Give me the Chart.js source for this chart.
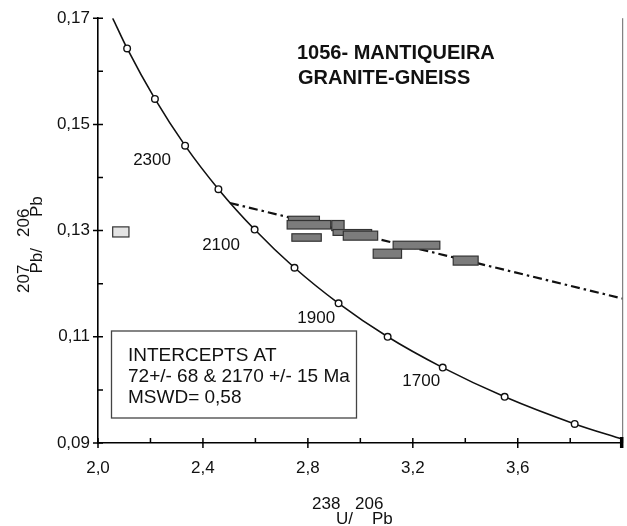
<!DOCTYPE html>
<html><head><meta charset="utf-8">
<script src="https://cdn.jsdelivr.net/npm/chart.js@4.4.0/dist/chart.umd.min.js"></script>
<style>html,body{margin:0;padding:0;background:#fff;overflow:hidden}canvas{display:block}</style>
</head><body>
<canvas id="c" width="627" height="526"></canvas>
<script>
// ---- tick labels ----
const xTickValues = [2.0, 2.4, 2.8, 3.2, 3.6];
const xTickLabels = ['2,0', '2,4', '2,8', '3,2', '3,6'];
const xMinorTicks = [2.2, 2.6, 3.0, 3.4, 3.8];
const yTickValues = [0.09, 0.11, 0.13, 0.15, 0.17];
const yTickLabels = ['0,09', '0,11', '0,13', '0,15', '0,17'];
const yMinorTicks = [0.10, 0.12, 0.14, 0.16];

// ---- concordia curve ----
const concordiaX = [2.056, 2.111, 2.217, 2.332, 2.459, 2.597, 2.749, 2.917, 3.104, 3.314, 3.550, 3.817, 4.000];
const concordiaY = [0.1700, 0.1643, 0.1548, 0.1460, 0.1378, 0.1302, 0.1230, 0.1163, 0.1100, 0.1042, 0.0987, 0.0936, 0.0907];
const concordiaMarked = [false, true, true, true, true, true, true, true, true, true, true, true, false];

// ---- age labels ----
const ageLabels = ['2300', '2100', '1900', '1700'];
const ageLabelX = [2.206, 2.469, 2.832, 3.232];
const ageLabelY = [0.1434, 0.1275, 0.1136, 0.1018];

// ---- discordia ----
const discordiaX = [2.503, 4.000];
const discordiaY = [0.1352, 0.1172];

// ---- error boxes ----
const boxX0 = [2.726, 2.721, 2.891, 2.896, 2.935, 2.739, 3.125, 3.049, 3.354, 2.056];
const boxX1 = [2.844, 2.887, 2.938, 3.043, 3.066, 2.851, 3.303, 3.157, 3.449, 2.118];
const boxY0 = [0.1316, 0.1303, 0.1300, 0.1291, 0.1282, 0.1280, 0.1265, 0.1248, 0.1235, 0.1288];
const boxY1 = [0.1327, 0.1319, 0.1319, 0.1302, 0.1299, 0.1294, 0.1280, 0.1265, 0.1252, 0.1307];
const boxLight = [false, false, false, false, false, false, false, false, false, true];

// ---- texts ----
const titleLines = ['1056- MANTIQUEIRA', 'GRANITE-GNEISS'];
const infoLines = ['INTERCEPTS AT', '72+/- 68 & 2170 +/- 15 Ma', 'MSWD= 0,58'];

const FONT = '"Liberation Sans", Arial, Helvetica, sans-serif';

const drawPlugin = {
  id: 'drawExtras',
  afterDatasetsDraw(chart) {
    const {ctx, scales: {x, y}} = chart;
    ctx.save();
    for (let i = 0; i < boxX0.length; i++) {
      const px0 = x.getPixelForValue(boxX0[i]), px1 = x.getPixelForValue(boxX1[i]);
      const py0 = y.getPixelForValue(boxY1[i]), py1 = y.getPixelForValue(boxY0[i]);
      ctx.fillStyle = boxLight[i] ? '#e4e4e4' : '#7c7c7c';
      ctx.strokeStyle = '#333';
      ctx.lineWidth = 1.2;
      ctx.fillRect(px0, py0, px1 - px0, py1 - py0);
      ctx.strokeRect(px0, py0, px1 - px0, py1 - py0);
    }
    ctx.restore();
  },
  afterDraw(chart) {
    const {ctx, chartArea: ca, scales: {x, y}} = chart;
    ctx.save();
    // right frame
    ctx.strokeStyle = '#666'; ctx.lineWidth = 1;
    ctx.beginPath(); ctx.moveTo(ca.right, ca.top); ctx.lineTo(ca.right, ca.bottom); ctx.stroke();
    // ticks
    ctx.strokeStyle = '#000'; ctx.lineWidth = 1.5;
    ctx.beginPath();
    xTickValues.forEach(v => { const p = x.getPixelForValue(v); ctx.moveTo(p, ca.bottom - 5); ctx.lineTo(p, ca.bottom + 5); });
    xMinorTicks.forEach(v => { const p = x.getPixelForValue(v); ctx.moveTo(p, ca.bottom - 5); ctx.lineTo(p, ca.bottom); });
    yTickValues.forEach(v => { const p = y.getPixelForValue(v); ctx.moveTo(ca.left - 5, p); ctx.lineTo(ca.left + 5, p); });
    yMinorTicks.forEach(v => { const p = y.getPixelForValue(v); ctx.moveTo(ca.left, p); ctx.lineTo(ca.left + 5, p); });
    ctx.stroke();
    ctx.lineWidth = 3.5;
    ctx.beginPath(); ctx.moveTo(ca.right - 1, ca.bottom - 6); ctx.lineTo(ca.right - 1, ca.bottom + 5); ctx.stroke();

    // age labels
    ctx.fillStyle = '#111';
    ctx.font = '17px ' + FONT;
    ctx.textAlign = 'center'; ctx.textBaseline = 'middle';
    ageLabels.forEach((t, i) => ctx.fillText(t, x.getPixelForValue(ageLabelX[i]), y.getPixelForValue(ageLabelY[i]) + 1));

    // title
    ctx.textAlign = 'left'; ctx.textBaseline = 'alphabetic';
    ctx.font = 'bold 20px ' + FONT;
    ctx.fillText(titleLines[0], 297, 59);
    ctx.fillText(titleLines[1], 298, 83.5);

    // info box
    ctx.fillStyle = '#fff';
    ctx.fillRect(111.5, 331, 245, 87);
    ctx.strokeStyle = '#444'; ctx.lineWidth = 1.3;
    ctx.strokeRect(111.5, 331, 245, 87);
    ctx.fillStyle = '#111';
    ctx.font = '19px ' + FONT;
    infoLines.forEach((t, i) => ctx.fillText(t, 128, 360.5 + i * 21));

    // x axis title
    ctx.font = '17px ' + FONT;
    ctx.fillText('238', 312, 509);
    ctx.fillText('206', 355, 509);
    ctx.fillText('U/', 336, 524);
    ctx.fillText('Pb', 372, 524);

    // y axis title (rotated)
    ctx.translate(0, 0);
    ctx.rotate(-Math.PI / 2);
    ctx.fillText('207', -293, 28.5);
    ctx.fillText('206', -237, 28.5);
    ctx.fillText('Pb/', -273.5, 42);
    ctx.fillText('Pb', -217, 42);
    ctx.restore();
  }
};

const ctx = document.getElementById('c').getContext('2d');
new Chart(ctx, {
  type: 'scatter',
  data: {
    datasets: [
      {
        data: concordiaX.map((v, i) => ({x: v, y: concordiaY[i]})),
        showLine: true,
        borderColor: '#111',
        borderWidth: 1.6,
        cubicInterpolationMode: 'monotone',
        pointRadius: concordiaMarked.map(m => m ? 3.3 : 0),
        pointBackgroundColor: '#fff',
        pointBorderColor: '#111',
        pointBorderWidth: 1.4,
        order: 1
      },
      {
        data: discordiaX.map((v, i) => ({x: v, y: discordiaY[i]})),
        showLine: true,
        borderColor: '#111',
        borderWidth: 2.2,
        borderDash: [9, 4, 2.5, 4],
        pointRadius: 0,
        order: 2
      }
    ]
  },
  options: {
    responsive: false,
    animation: false,
    events: [],
    layout: {padding: {left: 0, right: 4.3, top: 16, bottom: 0}},
    plugins: {legend: {display: false}, tooltip: {enabled: false}, title: {display: false}},
    scales: {
      x: {
        type: 'linear', min: 2.0, max: 4.0,
        afterBuildTicks: s => { s.ticks = xTickValues.map(v => ({value: v})); },
        afterFit: s => { s.height = 83; },
        ticks: {
          autoSkip: false, maxRotation: 0, padding: 15, color: '#111',
          font: {family: FONT, size: 17},
          callback: v => { const i = xTickValues.findIndex(t => Math.abs(t - v) < 1e-9); return i >= 0 ? xTickLabels[i] : ''; }
        },
        grid: {display: false, drawTicks: false},
        border: {display: true, color: '#000', width: 1.6}
      },
      y: {
        type: 'linear', min: 0.09, max: 0.17,
        afterBuildTicks: s => { s.ticks = yTickValues.map(v => ({value: v})); },
        afterFit: s => { s.width = 98; },
        ticks: {
          autoSkip: false, padding: 8, color: '#111',
          font: {family: FONT, size: 17},
          callback: v => { const i = yTickValues.findIndex(t => Math.abs(t - v) < 1e-9); return i >= 0 ? yTickLabels[i] : ''; }
        },
        grid: {display: false, drawTicks: false},
        border: {display: true, color: '#000', width: 1.6}
      }
    }
  },
  plugins: [drawPlugin]
});
</script>
</body></html>
